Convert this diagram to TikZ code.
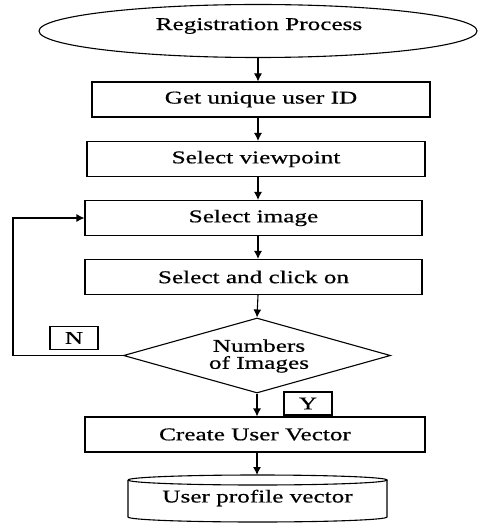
\documentclass[tikz,border=0pt]{standalone}
\usepackage{fontspec}
\setmainfont{Liberation Serif}[FakeStretch=1.4,FakeBold=0.6]
\usetikzlibrary{shapes.geometric,arrows.meta}
\begin{document}
\begin{tikzpicture}[x=1pt,y=-1pt,
  every node/.style={font=\fontsize{18}{18}\selectfont},
  box/.style={draw,line width=1.1pt,rectangle,inner sep=0pt,minimum height=35pt},
  arr/.style={line width=1.1pt,-{Latex[length=8pt,width=8pt]}},
  ln/.style={line width=1.1pt},
  tag/.style={draw,line width=1.1pt,rectangle,inner sep=0pt,minimum width=48pt,minimum height=23pt}]
\useasboundingbox (0,0) rectangle (477,524);
\node[draw,ellipse,line width=1.1pt,inner sep=0pt,minimum width=438pt,minimum height=53pt] (reg) at (258,31) {};
\node at (259,26) {Registration Process};
\node[box,minimum width=338pt] (uid) at (261,99.5) {Get unique user ID};
\node[box,minimum width=338pt] (vp) at (256,159) {Select viewpoint};
\node[box,minimum width=337pt] (img) at (253.5,218) {Select image};
\node[box,minimum width=337pt] (clk) at (253.5,277) {Select and click on};
\node[draw,diamond,line width=1.1pt,inner sep=0pt,minimum width=267pt,minimum height=75pt] (dec) at (257,355.5) {};
\node[align=center] (dectext) at (259,356) {Numbers\\[-1pt]of Images};
\node[tag] (n) at (74,338) {N};
\node[tag] (y) at (308,403.5) {Y};
\node[box,minimum width=340pt] (cuv) at (255,434.5) {Create User Vector};
\node[minimum width=259pt,minimum height=42pt,inner sep=0pt] (db) at (257.5,498) {User profile vector};
% cylinder outline
\draw[ln] (128,480) arc[start angle=180,end angle=0,x radius=129.5pt,y radius=5pt]
  arc[start angle=0,end angle=-180,x radius=129.5pt,y radius=5pt];
\draw[ln] (128,480) -- (128,517) arc[start angle=180,end angle=360,x radius=129.5pt,y radius=5pt] -- (387,480);
\coordinate (dbtop) at (257,475);
% connectors
\draw[arr] (reg.south) -- (reg.south |- uid.north);
\draw[arr] (reg.south |- uid.south) -- (reg.south |- vp.north);
\draw[arr] (reg.south |- vp.south) -- (reg.south |- img.north);
\draw[arr] (reg.south |- img.south) -- (reg.south |- clk.north);
\draw[arr] (reg.south |- clk.south) -- (dec.north);
\draw[arr] (dec.south) -- (dec.south |- cuv.north);
\draw[arr] (dec.south |- cuv.south) -- (dbtop);
\coordinate (loopb) at (13,355.5);
\draw[arr] (dec.west) -- (loopb) |- (img.west);
\end{tikzpicture}
\end{document}
